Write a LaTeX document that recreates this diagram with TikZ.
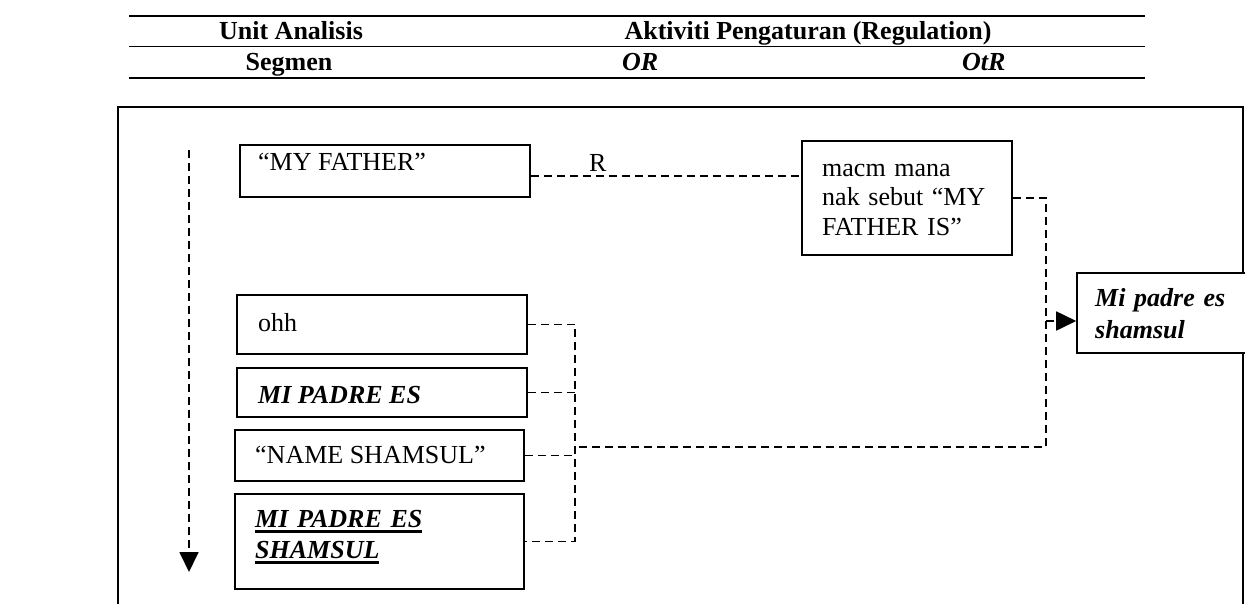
\documentclass[tikz,border=0pt]{standalone}
\usepackage{fontspec}
\setmainfont{Liberation Serif}
\newcommand{\myul}[1]{\leavevmode\setbox0=\hbox{#1}\rlap{\rule[-6pt]{\wd0}{2.6pt}}\box0}
\usetikzlibrary{arrows.meta}
\begin{document}
\begin{tikzpicture}[x=1pt,y=-1pt,
  box/.style={draw,line width=1.6pt,fill=white,inner sep=0pt,rectangle},
  dl/.style={line width=1.8pt,dash pattern=on 8pt off 5pt},
  txt/.style={inner sep=0pt,anchor=base west,font=\fontsize{26}{31}\selectfont},
  hd/.style={inner sep=0pt,anchor=base,font=\fontsize{26}{31}\selectfont\bfseries},
  tablerule/.style={line width=1.4pt},
  tip/.style={-{Triangle[length=20pt,width=19pt]}}]
\useasboundingbox (0,0) rectangle (1245,603);

% header table
\draw[tablerule] (129,16) -- (1145,16);
\draw[tablerule] (129,46.5) -- (1145,46.5);
\draw[tablerule] (129,78) -- (1145,78);
\node[hd] (h1) at (291,39.5) {Unit Analisis};
\node[hd] (h2) at (808,39.5) {Aktiviti Pengaturan (Regulation)};
\node[hd] (h3) at (289,70) {Segmen};
\node[hd,anchor=base west,font=\fontsize{26}{31}\selectfont\bfseries\itshape] (h4) at (622,70) {OR};
\node[hd,anchor=base west,font=\fontsize{26}{31}\selectfont\bfseries\itshape] (h5) at (962,70) {OtR};

% frame
\draw[line width=1.6pt] (118,107) rectangle (1243,640);

% boxes
\node[box,minimum width=290pt,minimum height=52pt] (bMF) at (385,171) {};
\node[box,minimum width=210pt,minimum height=114pt] (bMacm) at (907,198) {};
\node[box,minimum width=290pt,minimum height=59pt] (bOhh) at (382,324.5) {};
\node[box,minimum width=290pt,minimum height=49pt] (bMPE) at (382,392.5) {};
\node[box,minimum width=289pt,minimum height=51pt] (bNS) at (379.5,455.5) {};
\node[box,minimum width=289pt,minimum height=95pt] (bMPES) at (379.5,541.5) {};
\node[box,minimum width=183pt,minimum height=80pt] (bMi) at (1168.5,313) {};

% texts
\node[txt] (tMF) at (258,170) {“MY FATHER”};
\node[txt] (tR) at (589,171) {R};
\node[txt,text width=190pt,align=left,font=\fontsize{26}{29.5}\selectfont] (tMacm) at (822,176) {macm mana\\nak sebut “MY\\FATHER IS”};
\node[txt] (tOhh) at (258,331) {ohh};
\node[txt,font=\fontsize{26}{31}\selectfont\bfseries\itshape] (tMPE) at (258,403) {MI PADRE ES};
\node[txt] (tNS) at (255,463) {“NAME SHAMSUL”};
\node[txt,text width=260pt,align=left,font=\fontsize{26}{31}\selectfont\bfseries\itshape] (tMPES) at (255,527) {\myul{MI PADRE ES}\\\myul{SHAMSUL}};
\node[txt,text width=150pt,align=left,font=\fontsize{26}{31.5}\selectfont\bfseries\itshape] (tMi) at (1095,306.5) {Mi padre es\\shamsul};

% connectors
\coordinate (a0) at (189,150);
\coordinate (a1) at (189,572);
\draw[dl,tip] (a0) -- (a1);

\draw[dl] (bMF.east) ++(0,5) coordinate (p1) -- (p1 -| bMacm.west);

\coordinate (bus) at (575,447);
\coordinate (jr) at (1046,447);
\coordinate (ja) at (1046,321);
\draw[dl] (bMacm.east) -| (jr) -- (bus);
\draw[dl,tip] (ja) -- (ja -| bMi.west);

\draw[dl] (bOhh.east) -| (bMPES.east -| bus) -- (bMPES.east);
\draw[dl] (bMPE.east) -- (bMPE.east -| bus);
\draw[dl] (bNS.east) -- (bNS.east -| bus);
\end{tikzpicture}
\end{document}
